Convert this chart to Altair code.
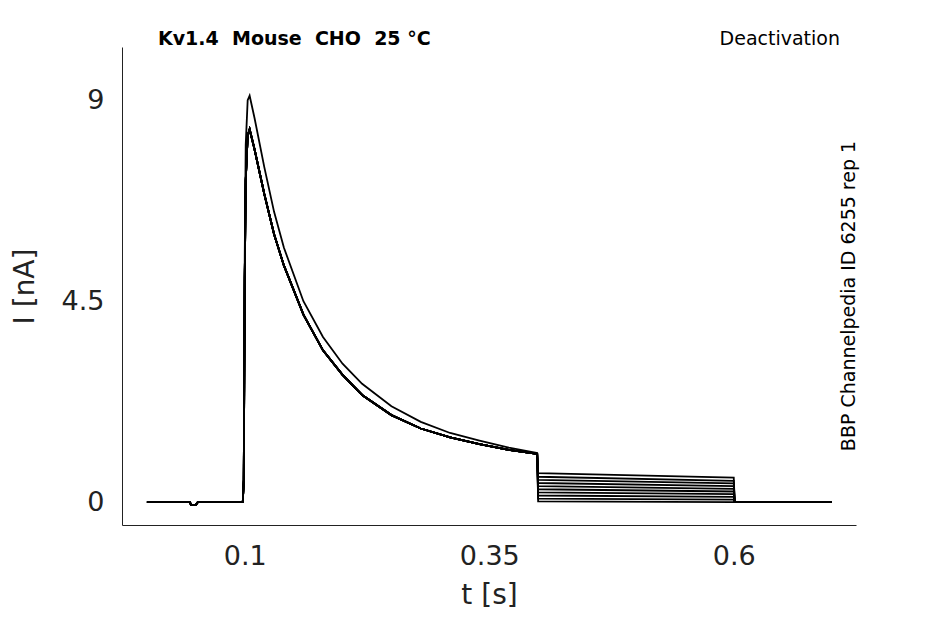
import altair as alt
import pandas as pd

# shared current trace before the deactivation step (s, nA)
t_main = [0.0, 0.044, 0.045, 0.05, 0.052, 0.098, 0.099, 0.1, 0.101, 0.103, 0.105,
          0.11, 0.12, 0.13, 0.14, 0.16, 0.18, 0.2, 0.22, 0.25, 0.28, 0.31, 0.34, 0.37, 0.399]
i_main = [0.0, 0.0, -0.06, -0.06, 0.0, 0.0, 0.5, 5.0, 7.2, 8.2, 8.35,
          7.9, 6.9, 6.0, 5.3, 4.2, 3.4, 2.85, 2.4, 1.95, 1.65, 1.45, 1.3, 1.17, 1.08]
i_high = [0.0, 0.0, -0.06, -0.06, 0.0, 0.0, 0.5, 5.5, 8.0, 9.0, 9.1,
          8.6, 7.5, 6.5, 5.7, 4.5, 3.7, 3.1, 2.65, 2.15, 1.8, 1.55, 1.38, 1.22, 1.1]
# tail level after the step at 0.4 s, and at 0.6 s
tail_start = [0.65, 0.57, 0.5, 0.43, 0.36, 0.29, 0.22, 0.15, 0.08, 0.02]
tail_end = [0.55, 0.48, 0.42, 0.36, 0.3, 0.24, 0.18, 0.12, 0.06, 0.0]
t_after = [0.601, 0.7]

rows = []
for k, (a, b) in enumerate(zip(tail_start, tail_end)):
    pre = i_high if k == 0 else i_main
    for t, v in zip(t_main, pre):
        rows.append({"trace": k, "t": t, "i": v})
    rows.append({"trace": k, "t": 0.4, "i": a})
    rows.append({"trace": k, "t": 0.6, "i": b})
    for t in t_after:
        rows.append({"trace": k, "t": t, "i": 0.0})
df = pd.DataFrame(rows)

lines = alt.Chart(df).mark_line(color="black", strokeWidth=1.8).encode(
    x=alt.X("t:Q", title="t [s]", scale=alt.Scale(domain=[-0.0255, 0.725], nice=False),
            axis=alt.Axis(values=[0.1, 0.35, 0.6], labelExpr="datum.value", grid=False,
                          ticks=False, labelPadding=18, titlePadding=12)),
    y=alt.Y("i:Q", title="I [nA]", scale=alt.Scale(domain=[-0.51, 10.19], nice=False),
            axis=alt.Axis(values=[0, 4.5, 9], labelExpr="datum.value", grid=False,
                          ticks=False, labelPadding=18, titlePadding=22)),
    detail="trace:N",
    order="t:Q",
)

title = alt.Chart(pd.DataFrame({"s": ["Kv1.4\u00a0\u00a0Mouse\u00a0\u00a0CHO\u00a0\u00a025 °C"]})).mark_text(
    align="left", fontWeight="bold", fontSize=19, font="DejaVu Sans", baseline="middle"
).encode(x=alt.value(36), y=alt.value(-8), text="s:N")
deact = alt.Chart(pd.DataFrame({"s": ["Deactivation"]})).mark_text(
    align="right", fontSize=19, font="DejaVu Sans", baseline="middle"
).encode(x=alt.value(718), y=alt.value(-8), text="s:N")
side = alt.Chart(pd.DataFrame({"s": ["BBP Channelpedia ID 6255 rep 1"]})).mark_text(
    align="center", fontSize=19, font="DejaVu Sans", angle=270, baseline="middle"
).encode(x=alt.value(727), y=alt.value(249), text="s:N")

chart = (lines + title + deact + side).properties(
    width=734, height=478, autosize=alt.AutoSizeParams(type="none"),
    padding={"left": 114, "top": 39, "right": 80, "bottom": 100},
).configure_view(stroke=None).configure_axis(
    labelFontSize=27, titleFontSize=28, labelFont="DejaVu Sans", titleFont="DejaVu Sans",
    labelColor="#222", titleColor="#222", titleFontWeight="normal", domainColor="#222",
)

chart.save("out.html", embed_options={"renderer": "svg", "actions": False})
